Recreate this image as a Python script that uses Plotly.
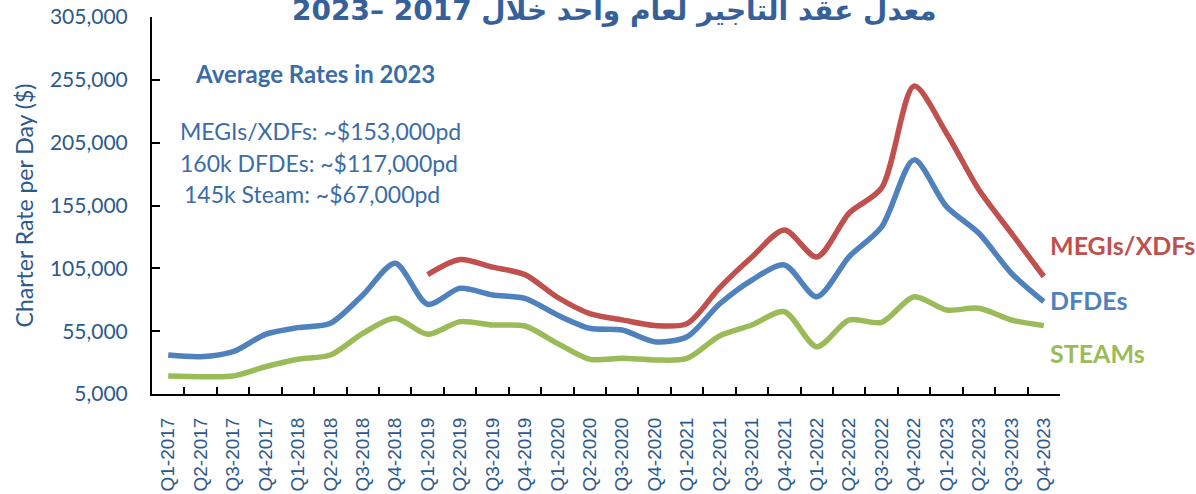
import plotly.graph_objects as go

quarters = [f"Q{q}-{y}" for y in range(2017, 2024) for q in range(1, 5)]

megi_quarters = quarters[8:]
megi = [100000, 112000, 106000, 100000, 82000, 69000, 64000, 59500, 61000, 89500,
        114000, 135500, 114000, 149000, 169000, 250000, 212500, 167500, 133000, 98500]

dfde = [36000, 34700, 38700, 52500, 57800, 61300, 83800, 109000, 76400, 89100,
        83800, 81100, 67900, 57300, 55900, 46600, 50600, 76600, 95700, 107700,
        82400, 114300, 138000, 191300, 154100, 132900, 101100, 78500]

steam = [19300, 18800, 19300, 26700, 32600, 36000, 53300, 65300, 52500, 62600,
         59900, 59100, 45300, 32600, 33400, 32100, 33400, 51200, 59900, 70500,
         42600, 63900, 62000, 82400, 71900, 73200, 63900, 59400]

y_ticks = [5000, 55000, 105000, 155000, 205000, 255000, 305000]

title_text = "\u202Bمعدل عقد التاجير لعام واحد خلال 2017 –2023\u202C"
avg_title = "Average Rates in 2023"
avg_lines = ["MEGIs/XDFs: ~$153,000pd", "160k DFDEs: ~$117,000pd", "145k Steam: ~$67,000pd"]

RED, BLUE, GREEN = "#C0504D", "#4F81BD", "#9BBB59"
TXT = "#2C5A8C"

fig = go.Figure()
for name, xs, ys, col in [("STEAMs", quarters, steam, GREEN),
                          ("DFDEs", quarters, dfde, BLUE),
                          ("MEGIs/XDFs", megi_quarters, megi, RED)]:
    fig.add_trace(go.Scatter(x=xs, y=ys, mode="lines", name=name,
                             line=dict(color=col, width=5.5, shape="spline", smoothing=0.8)))

W, H = 1196, 494
L, R, T, B = 152, 136, 17, 100
pw, ph = W - L - R, H - T - B

def px(xpix):
    return (xpix - L) / pw

def py(ypix):
    return 1 - (ypix - T) / ph

fig.update_layout(
    width=W, height=H,
    margin=dict(l=L, r=R, t=T, b=B, autoexpand=False),
    paper_bgcolor="white", plot_bgcolor="white",
    showlegend=False,
    xaxis=dict(type="category", categoryorder="array", categoryarray=quarters,
               range=[-0.5, len(quarters) - 0.5], automargin=False,
               showline=True, linecolor="black", linewidth=2, mirror=False,
               ticks="inside", ticklen=7, tickwidth=2, tickcolor="black",
               tickson="boundaries", showgrid=False, zeroline=False,
               tickangle=-90, ticklabelstandoff=14,
               tickfont=dict(family="Liberation Sans", size=19, color=TXT)),
    yaxis=dict(range=[5000, 305000], tickvals=y_ticks, automargin=False,
               ticktext=[f"{v:,}" for v in y_ticks],
               showline=True, linecolor="black", linewidth=2,
               ticks="inside", ticklen=8, tickwidth=2, tickcolor="black",
               showgrid=False, zeroline=False, ticklabelstandoff=18,
               tickfont=dict(family="Lato", size=21, color=TXT),
               title=dict(text="Charter Rate per Day ($)", standoff=10,
                          font=dict(family="Lato", size=23, color=TXT))),
)

ann = [
    dict(text=f"<b>{title_text}</b>", x=px(614), y=py(11), xanchor="center", yanchor="middle",
         font=dict(family="DejaVu Sans", size=28, color="#36609A")),
    dict(text=f"<b>{avg_title}</b>", x=px(193), y=py(73), xanchor="left", yanchor="middle",
         font=dict(family="Lato", size=24, color="#3A6CA8")),
]
for i, (t, xp, yp) in enumerate(zip(avg_lines, [178, 178, 182], [131, 163, 194])):
    ann.append(dict(text=t, x=px(xp), y=py(yp), xanchor="left", yanchor="middle",
                    font=dict(family="Lato", size=23, color="#3A6CA8")))
for t, col, yp in [("MEGIs/XDFs", RED, 245), ("DFDEs", BLUE, 300), ("STEAMs", GREEN, 353)]:
    ann.append(dict(text=f"<b>{t}</b>", x=px(1048), y=py(yp), xanchor="left", yanchor="middle",
                    font=dict(family="Lato", size=25, color=col)))
for a in ann:
    a.update(xref="paper", yref="paper", showarrow=False)
fig.update_layout(annotations=ann)

fig.write_html("out.html", config={"displayModeBar": False},
               post_script="document.body.style.margin='0';document.body.style.overflow='hidden';")
